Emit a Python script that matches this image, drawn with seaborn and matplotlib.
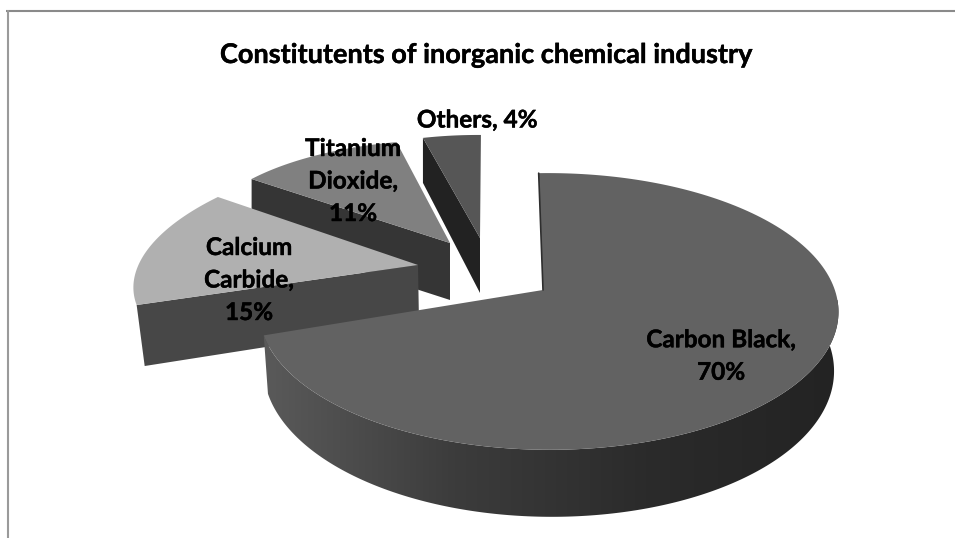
import numpy as np
import matplotlib
matplotlib.use("Agg")
import matplotlib.pyplot as plt
import matplotlib.patheffects as pe
from matplotlib.colors import LinearSegmentedColormap
from matplotlib.patches import Polygon
import seaborn as sns

# Chart data
categories = ["Carbon Black", "Calcium Carbide", "Titanium Dioxide", "Others"]
shares = [70, 15, 11, 4]
label_lines = [["Carbon Black,"], ["Calcium", "Carbide,"], ["Titanium", "Dioxide,"], ["Others,"]]
title = "Constitutents of inorganic chemical industry"

# Greys for the lit top faces and the shaded cut faces
top_colors = ["#626262", "#b0b0b0", "#808080", "#565656"]
cut_colors = ["#2e2e2e", "#474747", "#353535", "#222222"]
wall_ramp = LinearSegmentedColormap.from_list("wall", ["#5a5a5a", "#3c3c3c", "#2b2b2b", "#232323"])

sns.set_theme(style="white")
plt.rcParams["font.family"] = ["Lato", "DejaVu Sans"]

fig = plt.figure(figsize=(9.55, 5.38), dpi=100)
ax = fig.add_axes([0, 0, 1, 1])
ax.axis("off")

# Perspective frame of each slice: apex, plane basis (a, b, c, d) and foreshortening (k, m)
frames = [
    dict(apex=(543, 290), basis=(286, 0, 0, 135), persp=(0.155, 0.02)),
    dict(apex=(418, 265), basis=(280, -51, -1, 120), persp=(0, 0)),
    dict(apex=(450, 243), basis=(252, -14, 6, 103), persp=(0, 0)),
    dict(apex=(480, 238), basis=(233, -5, 3, 103), persp=(0, 0)),
]
# Offset and scale of the underside relative to the top face
undersides = [
    (0, 56.6, 0.985, 1.0),
    (1, 58, 0.975, 1.075),
    (0, 57, 1.0, 1.0),
    (0, 55, 1.0, 1.1),
]
rotation = -1.0


def project(theta_deg, frame, radius=1.0):
    """Map pie angles (clockwise from the top) onto the tilted plane of a slice."""
    t = np.radians(np.asarray(theta_deg, dtype=float))
    u, v = radius * np.sin(t), -radius * np.cos(t)
    a, b, c, d = frame["basis"]
    k, m = frame["persp"]
    w = 1 - k * v - m * u
    return (a * u + b * v) / w, (c * u + d * v) / w


def top_point(theta, frame):
    dx, dy = project(theta, frame)
    return frame["apex"][0] + dx, frame["apex"][1] + dy


def under_point(theta, frame, under, scale_w=False):
    dx, dy = project(theta, frame)
    ox, oy, sx, sy = under
    w = 1.0
    if scale_w:
        t = np.radians(np.asarray(theta, dtype=float))
        k, m = frame["persp"]
        w = 1 + k * np.cos(t) - m * np.sin(t)
    return frame["apex"][0] + ox + sx * dx, frame["apex"][1] + oy / w + sy * dy


edges = rotation + 3.6 * np.concatenate([[0], np.cumsum(shares)])
spans = list(zip(edges[:-1], edges[1:]))

# Slices are painted from the back of the pie to the front
for i in [3, 2, 1, 0]:
    start, stop = spans[i]
    frame = frames[i]
    under = undersides[i]
    ax_, ay_ = frame["apex"]

    if i == 0:
        # Curved outer wall: a left-to-right grey ramp clipped to the wall outline
        thetas = np.linspace(stop, 60, 300)
        tx, ty = top_point(thetas, frame)
        ux, uy = under_point(thetas, frame, under, scale_w=True)
        outline = np.column_stack([np.r_[tx, ux[::-1]], np.r_[ty, uy[::-1]]])
        wall = Polygon(outline, closed=True, transform=ax.transData, facecolor="none", edgecolor="none")
        ax.add_patch(wall)
        ramp = ax.imshow(np.linspace(0, 1, 256)[None, :], cmap=wall_ramp, aspect="auto",
                         extent=(262, 838, 538, 300), zorder=5, interpolation="bilinear")
        ramp.set_clip_path(wall)
    else:
        # Flat cut face along the leading edge of an exploded slice
        rx, ry = top_point(start, frame)
        lx, ly = under_point(start, frame, under)
        ox, oy, _, _ = under
        ax.fill([ax_, rx, lx, ax_ + ox], [ay_, ry, ly, ay_ + oy], color=cut_colors[i], lw=0, zorder=-i + 5)

    thetas = np.linspace(start, stop, 200)
    tx, ty = top_point(thetas, frame)
    ax.fill(np.r_[ax_, tx], np.r_[ay_, ty], color=top_colors[i], lw=0, zorder=-i + 5.5)

    if i == 0:
        # Narrow sliver of the far cut face on the large slice
        ex, ey = top_point(start, frame)
        ax.plot([ex, ax_], [ey, ay_], color=cut_colors[0], lw=1.2, zorder=6)

ax.set_xlim(0, 955)
ax.set_ylim(538, 0)

# Chart frame, open on the right and bottom
ax.plot([6, 955], [10.5, 10.5], color="#8a8a8a", lw=1.5, solid_capstyle="butt", zorder=1)
ax.plot([7.5, 7.5], [10, 538], color="#9a9a9a", lw=1.5, solid_capstyle="butt", zorder=1)

# Bold type is thickened slightly with a thin outline of its own colour
heavy = [pe.withStroke(linewidth=0.3, foreground="black")]

ax.text(486, 55, title, ha="center", va="center", fontsize=19.5, fontweight="bold",
        color="black", zorder=10, path_effects=heavy)

# Data labels state category and share
label_pos = [(721, 356), (249, 280), (353, 181), (477, 120)]
for lines, share, (lx, ly) in zip(label_lines, shares, label_pos):
    if len(lines) == 1 and lines[0] == "Others,":
        text = f"{lines[0]} {share}%"
    else:
        text = "\n".join(lines + [f"{share}%"])
    ax.text(lx, ly, text, ha="center", va="center", fontsize=17.5, fontweight="bold",
            color="black", linespacing=1.5, zorder=10, path_effects=heavy)

fig.savefig("out.png", dpi=100, facecolor="white")
